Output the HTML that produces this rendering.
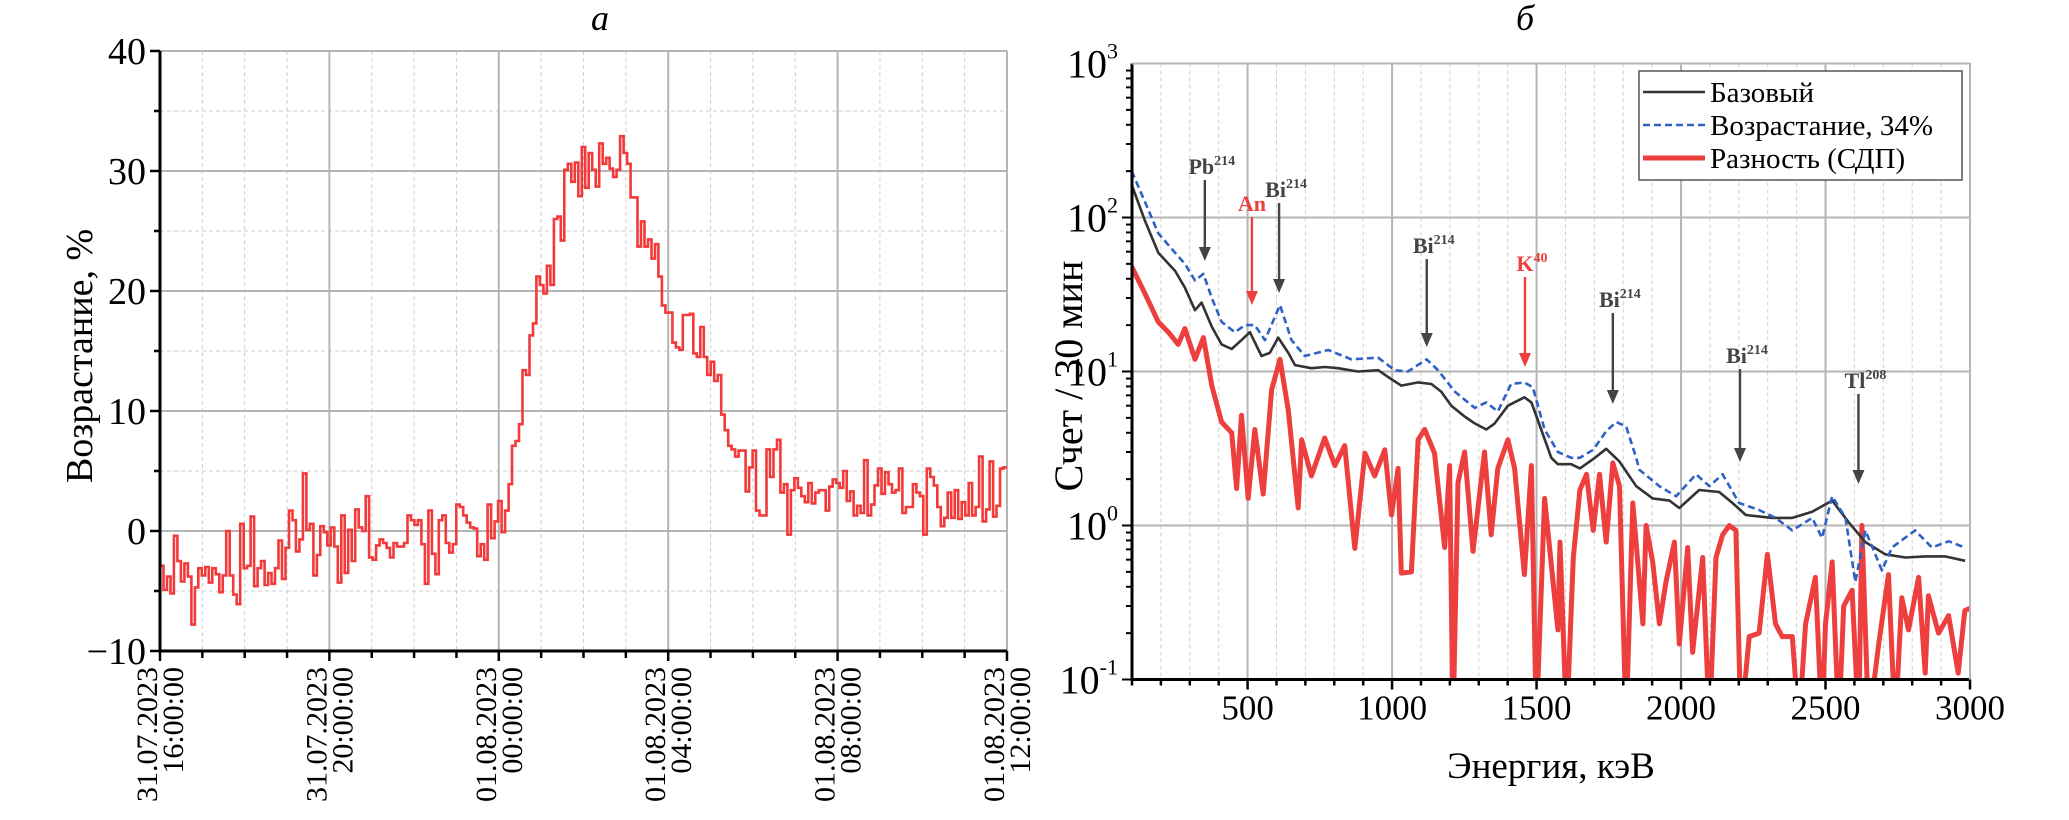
<!DOCTYPE html>
<html><head><meta charset="utf-8">
<style>
html,body{margin:0;padding:0;background:#fff;}
svg{display:block;font-family:"Liberation Serif","DejaVu Serif",serif;}
</style></head>
<body>
<svg id="chart" width="2069" height="820" viewBox="0 0 2069 820" xmlns="http://www.w3.org/2000/svg">
<defs>
<clipPath id="clipA"><rect x="160" y="51" width="847" height="600"/></clipPath>
<clipPath id="clipB"><rect x="1132" y="63.5" width="838" height="616"/></clipPath>
</defs>
<text x="600" y="30" font-size="36" font-style="italic" text-anchor="middle">а</text>
<text x="1525" y="30" font-size="36" font-style="italic" text-anchor="middle">б</text>
<g id="panelA"></g>
<g id="panelB"></g>
</svg>
<script>
// ---------- Panel A data (5-minute steps, 31.07 16:00 -> 01.08 12:00) ----------
const increaseValues = [
-2.9,-4.9,-3.8,-5.2,-0.4,-2.5,-4.2,-2.7,-3.8,-7.8,
-4.7,-3.1,-3.7,-3,-4.3,-3.1,-3.6,-5.1,-3.7,0,
-3.7,-5.3,-6.1,0.6,-3.1,-2.9,1.2,-4.6,-3.1,-2.5,
-4.5,-3.5,-4.4,-3.1,-0.8,-4,-1.4,1.7,0.9,-1.7,
-0.7,4.8,0.1,0.6,-3.7,-2,0.4,-0.1,-1.2,0.3,
-1.3,-4.3,1.3,-3.5,0.1,-2.5,1.8,0.3,0,2.9,
-2.2,-2.4,-1.2,-0.7,-1,-1.4,-2.2,-1,-1.3,-1.3,
-1,1.3,0.9,0.5,0.9,-1.1,-4.4,1.7,-1.9,-3.6,
0.9,1.3,-1,-1.8,-1.1,2.2,2,1.3,0.7,0.3,
0.2,-2.1,-1.1,-2.4,2.2,-0.6,0.8,2.5,-0.1,1.7,
3.9,7.1,7.5,8.9,
13.4,13,16.3,17.3,21.2,20.5,19.8,22.1,20.5,26,
26.2,24.2,30.1,30.6,29.1,30.7,27.9,32,28.6,31.5,
30.1,28.7,32.3,30.6,31.1,30.2,29.5,30.1,32.9,31.5,
30.6,27.8,27.8,
23.7,25.8,23.7,24.3,22.7,23.9,21.2,18.8,18.2,18.2,
15.7,15.3,15.1,18,18,18.1,14.8,14.5,17,14.5,
13,14.1,12.5,13,9.7,8.4,7.1,6.8,6.2,6.7,
6.7,3.3,5.3,6.7,1.7,1.3,1.3,6.8,4.5,6.8,
7.6,3.2,3.9,-0.3,3.4,4.4,3.6,2.9,2.4,4,
2.3,3.2,3.4,3.4,1.7,3.7,4.3,4,3.6,5,
2.5,3.3,1.3,2.1,1.5,5.9,1.3,2.2,3.8,5.2,
3.1,4.9,3.9,3.2,3.4,5.2,1.5,2,2,3.9,
3.2,2.9,-0.3,5.2,4.5,3.8,2,0.4,1.1,3.2,
1.1,3.4,1,2.4,1.3,4,1.3,2,6.2,0.8,
1.8,5.8,1.2,2.1,5.2,5.3];
const yTicksA = [-10,0,10,20,30,40];
const xTickDates = ["31.07.2023","31.07.2023","01.08.2023","01.08.2023","01.08.2023","01.08.2023"];
const xTickTimes = ["16:00:00","20:00:00","00:00:00","04:00:00","08:00:00","12:00:00"];
const spanHours = 20;

// ---------- Panel B data ----------
const baseEnergy = [99,145,191,249,283,318,341,376,410,445,479,508,548,577,606,641,664,721,767,813,882,952,998,1032,1090,1136,1170,1205,1251,1286,1326,1355,1401,1458,1482,1516,1551,1574,1620,1650,1696,1741,1787,1845,1902,1960,1994,2063,2132,2178,2224,2316,2385,2454,2523,2580,2638,2707,2776,2845,2914,2983];
const baseCounts = [163,95,59,45,35,25,28,19.5,15,14,16,18,12.6,13.2,16.6,13.2,11,10.5,10.7,10.5,10,10.2,8.9,8.1,8.5,8.3,7.4,6,5.1,4.6,4.2,4.6,6,6.8,6.3,4.2,2.75,2.5,2.5,2.35,2.7,3.15,2.6,1.8,1.5,1.45,1.3,1.7,1.65,1.4,1.17,1.12,1.12,1.23,1.45,1.05,0.78,0.65,0.62,0.63,0.63,0.59];
const riseEnergy = [99,145,191,249,283,318,347,376,410,456,491,525,560,612,652,698,779,859,952,1009,1055,1119,1159,1217,1286,1326,1366,1412,1458,1487,1528,1574,1620,1650,1696,1741,1776,1810,1845,1856,1925,1983,2052,2098,2144,2201,2270,2327,2385,2454,2488,2523,2569,2603,2638,2695,2730,2810,2868,2926,2982];
const riseCounts = [200,126,79,59,50,39,43,30,21,18,20,20,16,27,16,12.6,13.8,12,12.3,10.2,10,12,10.2,7.4,5.8,6.3,5.5,8.3,8.5,7.9,4.2,3,2.75,2.75,3.1,4.1,4.7,4.4,2.75,2.3,1.8,1.55,2.15,1.8,2.15,1.4,1.26,1.12,0.93,1.12,0.83,1.55,1.12,0.43,0.93,0.51,0.72,0.93,0.72,0.79,0.72];
const diffEnergy = [99,145,191,226,260,283,318,347,376,410,445,462,479,502,525,554,583,612,641,675,687,721,767,802,836,871,906,940,975,998,1021,1032,1067,1090,1113,1147,1182,1199,1211,1228,1251,1280,1320,1343,1366,1401,1424,1458,1482,1499,1528,1574,1581,1604,1627,1650,1673,1696,1718,1741,1764,1787,1810,1833,1868,1879,1902,1925,1948,1977,1994,2023,2040,2075,2098,2121,2144,2167,2190,2207,2236,2270,2299,2327,2350,2385,2408,2431,2465,2488,2500,2523,2546,2563,2592,2615,2626,2649,2684,2718,2741,2764,2787,2822,2845,2856,2891,2926,2959,2982,3000];
const diffCounts = [48,32,21,18,15,19,12,16.6,8.1,4.7,4,1.74,5.2,1.5,4.2,1.6,7.6,12,5.6,1.3,3.6,2.1,3.7,2.45,3.3,0.71,2.95,2.1,3.1,1.17,2.35,0.49,0.5,3.6,4.2,2.95,0.72,2.45,0.05,1.9,3,0.68,3,0.87,2.35,3.6,2.35,0.48,2.45,0.05,1.5,0.21,0.78,0.05,0.62,1.7,2.15,0.93,2.15,0.78,2.55,1.8,0.05,1.4,0.23,1,0.58,0.23,0.43,0.78,0.17,0.72,0.15,0.62,0.05,0.62,0.87,1,0.93,0.05,0.19,0.2,0.65,0.23,0.19,0.19,0.05,0.23,0.46,0.05,0.23,0.58,0.05,0.3,0.38,0.05,1,0.05,0.17,0.48,0.05,0.34,0.21,0.46,0.11,0.35,0.2,0.26,0.11,0.28,0.29];
const xTicksB = [500,1000,1500,2000,2500,3000];
const yDecadesB = [-1,0,1,2,3];
const peakLabels = ["Pb","An","Bi","Bi","K","Bi","Bi","Tl"];
const peakSups = ["214","","214","214","40","214","214","208"];
const peakEnergies = [352,515,609,1120,1460,1764,2204,2614];
const peakArrowTops = [180,217,203,259,277,313,369,394];
const peakArrowTips = [261,305,293,347,367,404,462,484];

const NS="http://www.w3.org/2000/svg";
function mk(tag, attrs, parent){const e=document.createElementNS(NS,tag);for(const k in attrs)e.setAttribute(k,attrs[k]);parent.appendChild(e);return e;}

// ---------- Panel A ----------
(function(){
const g=document.getElementById('panelA');
const L=160,R=1007,T=51,B=651;
const xA=h=>L+(R-L)*h/spanHours;
const yA=v=>B-(v+10)/50*(B-T);
for(let h=1;h<spanHours;h++){ if(h%4===0) continue;
  const l=mk('line',{x1:xA(h),x2:xA(h),y1:T,y2:B,stroke:'#cfcfcf','stroke-width':1,'stroke-dasharray':'4,3'},g);
  
  }
for(let v=-5;v<40;v+=10){
  const l=mk('line',{x1:L,x2:R,y1:yA(v),y2:yA(v),stroke:'#cfcfcf','stroke-width':1,'stroke-dasharray':'4,3'},g);
  
  }
for(let h=4;h<=spanHours;h+=4){
  const l=mk('line',{x1:xA(h),x2:xA(h),y1:T,y2:B,stroke:'#b5b5b5','stroke-width':2},g);
  
  }
yTicksA.forEach(v=>{ if(v===-10) return;
  const l=mk('line',{x1:L,x2:R,y1:yA(v),y2:yA(v),stroke:'#b5b5b5','stroke-width':2},g);
  
  });
const n=increaseValues.length, step=spanHours/n;
let d='';
increaseValues.forEach((v,i)=>{const x0=xA(i*step),x1=xA((i+1)*step),y=yA(v);
  d+=(i===0?'M':'L')+x0.toFixed(1)+','+y.toFixed(1)+'L'+x1.toFixed(1)+','+y.toFixed(1);});
const p=mk('path',{d:d,fill:'none',stroke:'#f23a3a','stroke-width':2.6,'clip-path':'url(#clipA)'},g);


const ax=mk('path',{d:`M${L},${T}L${L},${B}L${R},${B}`,fill:'none',stroke:'#000','stroke-width':3},g);


for(let v=-10;v<=40;v+=5){
  const t=mk('line',{x1:L-(v%10===0?10:6),x2:L,y1:yA(v),y2:yA(v),stroke:'#000','stroke-width':2.5},g);
  
  }
for(let h=0;h<=spanHours;h++){
  const t=mk('line',{x1:xA(h),x2:xA(h),y1:B,y2:B+(h%4===0?10:7),stroke:'#000','stroke-width':2.5},g);
  
  }
yTicksA.forEach(v=>{
  const t=mk('text',{x:L-14,y:yA(v)+13,'font-size':38,'text-anchor':'end'},g);
  t.textContent=v<0?'\u2212'+Math.abs(v):String(v);
  
  });
xTickDates.forEach((s,i)=>{
  const x=xA(i*4);
  const t1=mk('text',{x:0,y:0,'font-size':30,'text-anchor':'end',transform:`translate(${x-3},${B+16}) rotate(-90)`},g);
  t1.textContent=s;
  
  
  const t2=mk('text',{x:0,y:0,'font-size':30,'text-anchor':'end',transform:`translate(${x+23},${B+16}) rotate(-90)`},g);
  t2.textContent=xTickTimes[i];
  
  });
const yt=mk('text',{x:0,y:0,'font-size':38,'text-anchor':'middle',transform:'translate(92,356) rotate(-90)'},g);
yt.textContent='Возрастание, %';


})();

// ---------- Panel B ----------
(function(){
const g=document.getElementById('panelB');
const L=1132,R=1970,T=63.5,B=679.5;
const xB=e=>L+(e-100)/2900*(R-L);
const yB=c=>B-(Math.log10(Math.max(c,0.01))+1)/4*(B-T);
for(let e=200;e<3000;e+=100){ if(e%500===0) continue;
  const l=mk('line',{x1:xB(e),x2:xB(e),y1:T,y2:B,stroke:'#d0d0d0','stroke-width':1,'stroke-dasharray':'4,3'},g);
  
  }
xTicksB.forEach(e=>{
  const l=mk('line',{x1:xB(e),x2:xB(e),y1:T,y2:B,stroke:'#b5b5b5','stroke-width':2},g);
  
  });
yDecadesB.forEach(k=>{ if(k===-1) return;
  const l=mk('line',{x1:L,x2:R,y1:yB(Math.pow(10,k)),y2:yB(Math.pow(10,k)),stroke:'#b5b5b5','stroke-width':2},g);
  
  });
function line(E,C,attrs,name){let d='';E.forEach((e,i)=>{d+=(i?'L':'M')+xB(e).toFixed(1)+','+yB(C[i]).toFixed(1);});
  const p=mk('path',Object.assign({d:d,fill:'none','clip-path':'url(#clipB)','stroke-linejoin':'round'},attrs),g);
  
  }
line(diffEnergy,diffCounts,{stroke:'#ee3f3f','stroke-width':5},'difference-series');
line(baseEnergy,baseCounts,{stroke:'#333','stroke-width':2.6},'base-series');
line(riseEnergy,riseCounts,{stroke:'#2f62c4','stroke-width':2.6,'stroke-dasharray':'7,4'},'increase-34-series');
const ax=mk('path',{d:`M${L},${T}L${L},${B}L${R},${B}`,fill:'none',stroke:'#000','stroke-width':3},g);


const fr=mk('path',{d:`M${L},${T}L${R},${T}L${R},${B}`,fill:'none',stroke:'#b5b5b5','stroke-width':2},g);


for(let k=-1;k<3;k++){for(let m=1;m<=9;m++){const c=m*Math.pow(10,k);
  const t=mk('line',{x1:L-(m===1?10:6),x2:L,y1:yB(c),y2:yB(c),stroke:'#000','stroke-width':2},g);
  
  }}
for(let e=100;e<=3000;e+=100){
  const t=mk('line',{x1:xB(e),x2:xB(e),y1:B,y2:B+(e%500===0?10:6),stroke:'#000','stroke-width':2.5},g);
  
  }
xTicksB.forEach(e=>{
  const t=mk('text',{x:xB(e),y:B+40,'font-size':35,'text-anchor':'middle'},g);
  t.textContent=String(e);
  
  });
yDecadesB.forEach(k=>{
  const t=mk('text',{x:L-14,y:yB(Math.pow(10,k))+14,'font-size':40,'text-anchor':'end'},g);
  
  
  const a=mk('tspan',{},t);a.textContent='10';
  const s=mk('tspan',{'font-size':22,dy:-19},t);s.textContent=String(k<0?'-1':k);});
const xt=mk('text',{x:1551,y:778,'font-size':37,'text-anchor':'middle'},g);
xt.textContent='Энергия, кэВ';


const yt=mk('text',{x:0,y:0,'font-size':40,'text-anchor':'middle',transform:'translate(1082,376) rotate(-90)'},g);
yt.textContent='Счет / 30 мин';


peakLabels.forEach((lab,i)=>{
  const col=(lab==='An'||lab==='K')?'#ee3f3f':'#444';
  const x=xB(peakEnergies[i]);
  const a=mk('line',{x1:x,x2:x,y1:peakArrowTops[i],y2:peakArrowTips[i]-10,stroke:col,'stroke-width':2.4},g);
  
  
  const h=mk('path',{d:`M${x-6},${peakArrowTips[i]-14}L${x+6},${peakArrowTips[i]-14}L${x},${peakArrowTips[i]}Z`,fill:col},g);
  
  
  const t=mk('text',{x:x+(peakSups[i]?7:0),y:peakArrowTops[i]-6,'font-size':22,'font-weight':'bold',fill:col,'text-anchor':'middle'},g);
  
  
  const a1=mk('tspan',{},t);a1.textContent=lab;
  if(peakSups[i]){const s=mk('tspan',{'font-size':14,dy:-9},t);s.textContent=peakSups[i];}
});
const lg=mk('g',{},g);


const box=mk('rect',{x:1639,y:71,width:323,height:109,fill:'#fff',stroke:'#555','stroke-width':1.5},lg);


const entries=[['Базовый',{stroke:'#333','stroke-width':2.6}],['Возрастание, 34%',{stroke:'#2f62c4','stroke-width':2.6,'stroke-dasharray':'7,4'}],['Разность (СДП)',{stroke:'#ee3f3f','stroke-width':5}]];
entries.forEach((en,i)=>{const y=92+i*33;
  const l=mk('line',Object.assign({x1:1643,x2:1705,y1:y,y2:y},en[1]),lg);
  
  
  const t=mk('text',{x:1710,y:y+10,'font-size':29},lg);t.textContent=en[0];
  
  });
})();
</script>
</body></html>
